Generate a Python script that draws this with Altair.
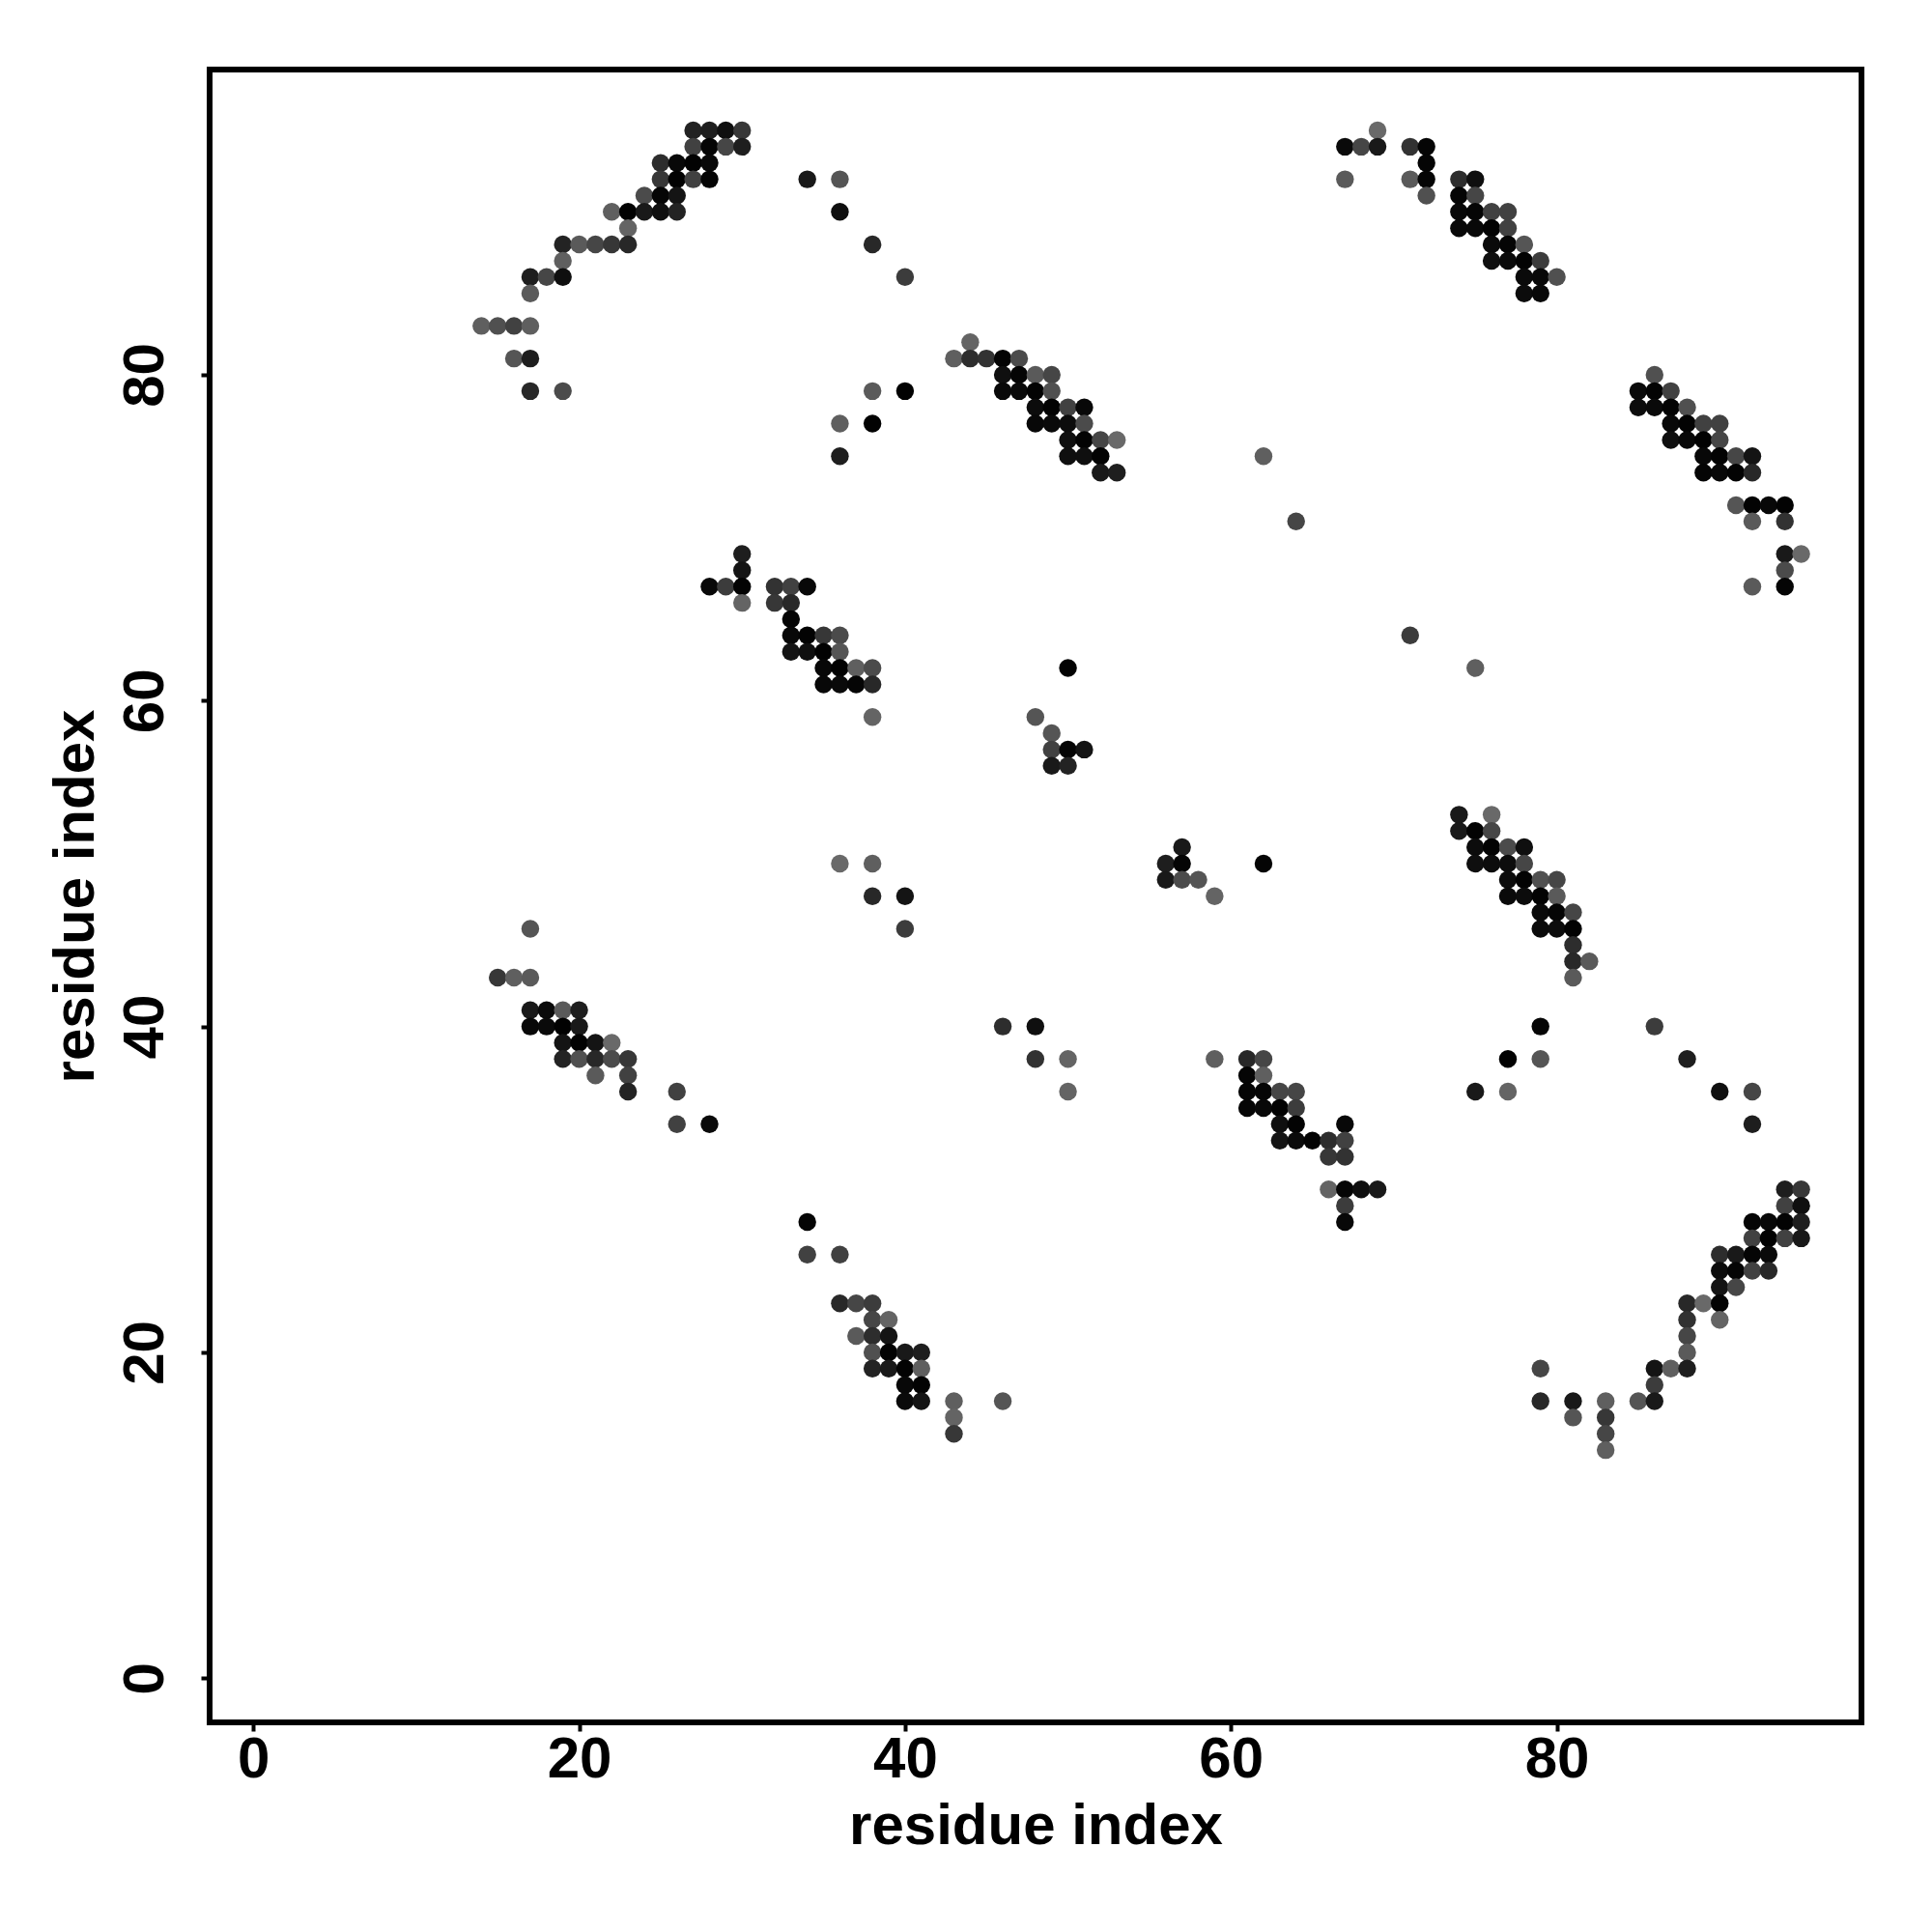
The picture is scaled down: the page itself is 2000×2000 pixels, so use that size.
import altair as alt
import pandas as pd

tick_values = [0, 20, 40, 60, 80]
axis_title = "residue index"

rows = [95, 94, 93, 92, 91, 90, 89, 88, 87, 86, 85, 83, 82, 81, 80, 79, 78, 77, 76, 75, 74, 72, 71, 69, 68, 67, 66, 65, 64, 63, 62, 61, 59, 58, 57, 56,
        53, 52, 51, 50, 49, 48, 47, 46, 45, 44, 43, 41, 40, 39, 38, 37, 36, 35, 34, 33, 32, 30, 29, 28, 27, 26, 25, 24, 23, 22, 21, 20, 19, 18, 17, 16, 15, 14]

x_by_row = [
    [27, 28, 29, 30, 69],
    [27, 28, 29, 30, 67, 68, 69, 71, 72],
    [25, 26, 27, 28, 72],
    [25, 26, 27, 28, 34, 36, 67, 71, 72, 74, 75],
    [24, 25, 26, 72, 74, 75],
    [22, 23, 24, 25, 26, 36, 74, 75, 76, 77],
    [23, 74, 75, 76, 77],
    [19, 20, 21, 22, 23, 38, 76, 77, 78],
    [19, 76, 77, 78, 79],
    [17, 18, 19, 40, 78, 79, 80],
    [17, 78, 79],
    [14, 15, 16, 17],
    [44],
    [16, 17, 43, 44, 45, 46, 47],
    [46, 47, 48, 49, 86],
    [17, 19, 38, 40, 46, 47, 48, 49, 85, 86, 87],
    [48, 49, 50, 51, 85, 86, 87, 88],
    [36, 38, 48, 49, 50, 51, 87, 88, 89, 90],
    [50, 51, 52, 53, 87, 88, 89, 90],
    [36, 50, 51, 52, 62, 89, 90, 91, 92],
    [52, 53, 89, 90, 91, 92],
    [91, 92, 93, 94],
    [64, 92, 94],
    [30, 94, 95],
    [30, 94],
    [28, 29, 30, 32, 33, 34, 92, 94],
    [30, 32, 33],
    [33],
    [33, 34, 35, 36, 71],
    [33, 34, 35, 36],
    [35, 36, 37, 38, 50, 75],
    [35, 36, 37, 38],
    [38, 48],
    [49],
    [49, 50, 51],
    [49, 50],
    [74, 76],
    [74, 75, 76],
    [57, 75, 76, 77, 78],
    [36, 38, 56, 57, 62, 75, 76, 77, 78],
    [56, 57, 58, 77, 78, 79, 80],
    [38, 40, 59, 77, 78, 79, 80],
    [79, 80, 81],
    [17, 40, 79, 80, 81],
    [81],
    [81, 82],
    [15, 16, 17, 81],
    [17, 18, 19, 20],
    [17, 18, 19, 20, 46, 48, 79, 86],
    [19, 20, 21, 22],
    [19, 20, 21, 22, 23, 48, 50, 59, 61, 62, 77, 79, 88],
    [21, 23, 61, 62],
    [23, 26, 50, 61, 62, 63, 64, 75, 77, 90, 92],
    [61, 62, 63, 64],
    [26, 28, 63, 64, 67, 92],
    [63, 64, 65, 66, 67],
    [66, 67],
    [66, 67, 68, 69, 94, 95],
    [67, 94, 95],
    [34, 67, 92, 93, 94, 95],
    [92, 93, 94, 95],
    [34, 36, 90, 91, 92, 93],
    [90, 91, 92, 93],
    [90, 91],
    [36, 37, 38, 88, 89, 90],
    [38, 39, 88, 90],
    [37, 38, 39, 88],
    [38, 39, 40, 41, 88],
    [38, 39, 40, 41, 79, 86, 87, 88],
    [40, 41, 86],
    [40, 41, 43, 46, 79, 81, 83, 85, 86],
    [43, 81, 83],
    [43, 83],
    [83],
]

gray_by_row = [
    [34, 30, 15, 55, 105],
    [65, 5, 70, 30, 10, 70, 25, 50, 5],
    [45, 8, 2, 8, 5],
    [55, 2, 65, 5, 25, 85, 90, 90, 5, 45, 15],
    [75, 5, 20, 80, 5, 70],
    [95, 2, 25, 15, 35, 15, 8, 5, 65, 65],
    [100, 8, 8, 3, 65],
    [35, 90, 70, 55, 40, 40, 10, 5, 85],
    [95, 15, 10, 3, 60],
    [30, 70, 15, 60, 10, 8, 80],
    [90, 12, 8],
    [95, 80, 65, 95],
    [100],
    [85, 30, 95, 45, 50, 3, 75],
    [15, 5, 90, 70, 80],
    [40, 75, 90, 2, 8, 10, 3, 80, 10, 3, 65],
    [12, 3, 65, 8, 12, 10, 3, 80],
    [95, 2, 8, 10, 12, 75, 8, 3, 65, 65],
    [15, 3, 70, 105, 15, 8, 2, 70],
    [30, 15, 15, 3, 95, 8, 3, 70, 20],
    [25, 30, 5, 8, 3, 40],
    [85, 3, 8, 3],
    [70, 90, 50],
    [30, 25, 105],
    [20, 75],
    [8, 60, 3, 50, 65, 8, 90, 5],
    [100, 55, 40],
    [5],
    [8, 3, 55, 75, 60],
    [20, 15, 2, 85],
    [8, 2, 95, 75, 3, 95],
    [8, 10, 5, 40],
    [100, 85],
    [85],
    [65, 5, 20],
    [25, 35],
    [25, 105],
    [25, 3, 70],
    [25, 12, 3, 75, 15],
    [105, 95, 30, 5, 5, 15, 12, 12, 70],
    [25, 75, 85, 12, 3, 80, 70],
    [40, 20, 100, 10, 12, 3, 90],
    [10, 5, 70],
    [85, 60, 10, 12, 3],
    [45],
    [40, 90],
    [55, 95, 90, 90],
    [25, 10, 90, 30],
    [8, 10, 2, 25, 45, 15, 5, 60],
    [20, 2, 20, 105],
    [35, 80, 40, 75, 55, 50, 100, 95, 40, 70, 2, 85, 30],
    [90, 65, 5, 95],
    [35, 65, 100, 5, 5, 70, 70, 25, 100, 15, 70],
    [5, 8, 2, 60],
    [65, 10, 15, 3, 8, 30],
    [20, 10, 3, 45, 65],
    [55, 50],
    [100, 5, 15, 25, 30, 55],
    [60, 65, 15],
    [5, 8, 5, 8, 3, 30],
    [65, 2, 65, 25],
    [65, 65, 45, 25, 5, 10],
    [12, 5, 65, 40],
    [20, 70],
    [40, 70, 60, 40, 105, 3],
    [70, 100, 50, 100],
    [90, 45, 20, 70],
    [80, 3, 25, 30, 90],
    [35, 25, 3, 95, 70, 20, 95, 30],
    [8, 3, 60],
    [10, 20, 95, 85, 40, 25, 95, 85, 25],
    [100, 85, 55],
    [55, 70],
    [95],
]

xs, ys, grays = [], [], []
for y, row_x, row_g in zip(rows, x_by_row, gray_by_row):
    for x, g in zip(row_x, row_g):
        xs.append(x)
        ys.append(y)
        grays.append(f"rgb({g},{g},{g})")

df = pd.DataFrame({"x": xs, "y": ys, "shade": grays})

FONT = "Liberation Sans"
FS = 60
TS = 60

x_axis = alt.Axis(values=tick_values, title=axis_title, grid=False, domain=False,
                  tickSize=9, tickWidth=4, tickColor="black",
                  labelFont=FONT, labelFontSize=FS, labelFontWeight="bold", labelColor="black",
                  labelPadding=0, labelFlush=False, labelOverlap=False,
                  titleFont=FONT, titleFontSize=TS, titleFontWeight="bold", titleColor="black",
                  titlePadding=10)
y_axis = alt.Axis(values=tick_values, title=axis_title, grid=False, domain=False,
                  tickSize=9, tickWidth=4, tickColor="black",
                  labelFont=FONT, labelFontSize=FS, labelFontWeight="bold", labelColor="black",
                  labelAngle=270, labelAlign="center", labelBaseline="bottom",
                  labelPadding=27, labelFlush=False, labelOverlap=False,
                  titleFont=FONT, titleFontSize=TS, titleFontWeight="bold", titleColor="black",
                  titlePadding=11)

chart = (
    alt.Chart(df)
    .mark_circle(size=340, opacity=1)
    .encode(
        x=alt.X("x:Q", axis=x_axis, scale=alt.Scale(domain=[-2.68, 98.70], nice=False, zero=False)),
        y=alt.Y("y:Q", axis=y_axis, scale=alt.Scale(domain=[-2.714, 98.736], nice=False, zero=False)),
        color=alt.Color("shade:N", scale=None),
    )
    .properties(
        width=1710, height=1711,
        padding={"left": 209, "top": 64, "right": 60, "bottom": 200},
        autosize=alt.AutoSizeParams(type="none"),
        background="white",
    )
    .configure_view(stroke="black", strokeWidth=6, fill="white")
)

chart.save("out.html", embed_options={"renderer": "svg", "actions": False})
